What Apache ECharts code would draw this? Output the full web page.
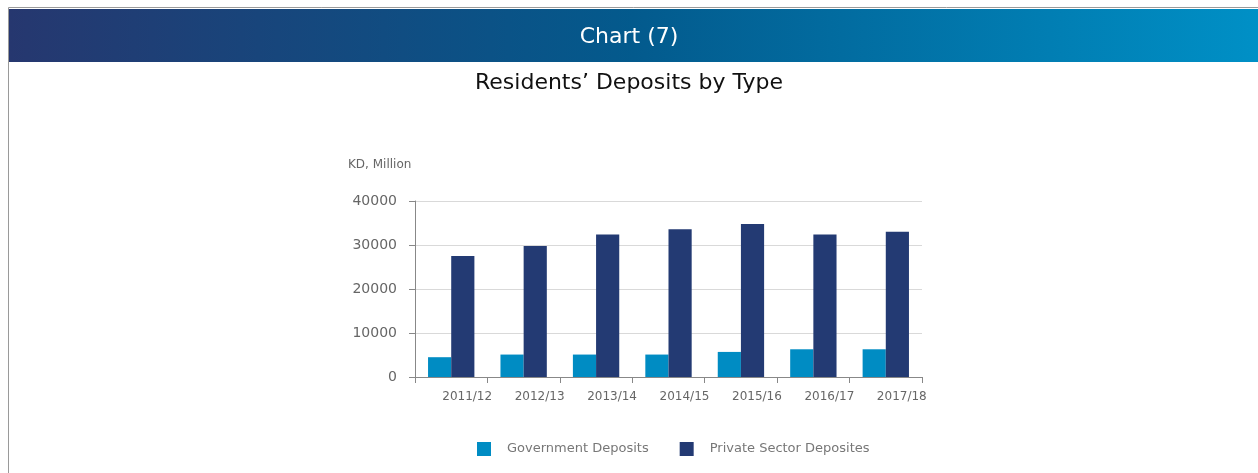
<!DOCTYPE html>
<html>
<head>
<meta charset="utf-8">
<script src="https://cdn.jsdelivr.net/npm/echarts@6/dist/echarts.min.js"></script>
<style>
  html, body { margin: 0; padding: 0; background: #fff; }
  #chart { width: 1258px; height: 473px; }
</style>
</head>
<body>
<div id="chart"></div>
<script>
const years = ['2011/12', '2012/13', '2013/14', '2014/15', '2015/16', '2016/17', '2017/18'];
const governmentDeposits = [4500, 5100, 5100, 5100, 5700, 6300, 6300];
const privateDeposits = [27500, 29800, 32400, 33600, 34800, 32400, 33000];
const yTicks = [0, 10000, 20000, 30000, 40000];

const FONT = '"DejaVu Sans", sans-serif';

const chart = echarts.init(document.getElementById('chart'));

chart.setOption({
    animation: false,
    textStyle: { fontFamily: FONT },
    graphic: [
        {
            type: 'rect',
            shape: { x: 8.5, y: 7.5, width: 1260, height: 480 },
            style: { fill: '#fff', stroke: '#9a9a9a', lineWidth: 1 },
            z: -10
        },
        {
            type: 'rect',
            shape: { x: 9, y: 9, width: 1249, height: 53 },
            style: {
                fill: new echarts.graphic.LinearGradient(0, 0, 1, 0, [
                    { offset: 0, color: '#26376f' },
                    { offset: 0.5, color: '#035a8d' },
                    { offset: 1, color: '#0090c6' }
                ])
            },
            z: -5
        }
    ],
    title: [
        {
            text: 'Chart (7)',
            left: 'center',
            top: 21,
            textStyle: { color: '#fff', fontSize: 22, fontWeight: 'normal', fontFamily: FONT }
        },
        {
            text: 'Residents’ Deposits by Type',
            left: 'center',
            top: 67,
            textStyle: { color: '#111', fontSize: 22, fontWeight: 'normal', fontFamily: FONT }
        },
        {
            text: 'KD, Million',
            left: 343,
            top: 154,
            textStyle: { color: '#666', fontSize: 12, fontWeight: 'normal', fontFamily: FONT }
        }
    ],
    legend: {
        bottom: 12,
        left: 472,
        itemWidth: 14,
        itemHeight: 14,
        itemGap: 31,
        icon: 'rect',
        textStyle: { color: '#777', fontSize: 13, padding: [0, 0, 0, 11], fontFamily: FONT },
        data: ['Government Deposits', 'Private Sector Deposites']
    },
    grid: {
        left: 415,
        right: 336,
        top: 201,
        bottom: 96
    },
    xAxis: {
        type: 'category',
        data: years,
        axisLine: { lineStyle: { color: '#888' } },
        axisTick: { show: true, length: 6, lineStyle: { color: '#888' } },
        axisLabel: { color: '#666', fontSize: 12, margin: 14, padding: [0, 0, 0, 32], fontFamily: FONT },
        splitLine: { show: false }
    },
    yAxis: {
        type: 'value',
        min: yTicks[0],
        max: yTicks[yTicks.length - 1],
        interval: 10000,
        axisLine: { show: true, lineStyle: { color: '#888' } },
        axisTick: { show: true, length: 6, lineStyle: { color: '#888' } },
        axisLabel: {
            color: '#666', fontSize: 14, margin: 18, fontFamily: FONT,
            formatter: (v) => String(v)
        },
        splitLine: { lineStyle: { color: '#d9d9d9' } }
    },
    series: [
        {
            name: 'Government Deposits',
            type: 'bar',
            data: governmentDeposits,
            barGap: '0%',
            barCategoryGap: '36%',
            itemStyle: { color: '#008cc3' }
        },
        {
            name: 'Private Sector Deposites',
            type: 'bar',
            data: privateDeposits,
            itemStyle: { color: '#233a73' }
        }
    ]
});
</script>
</body>
</html>
